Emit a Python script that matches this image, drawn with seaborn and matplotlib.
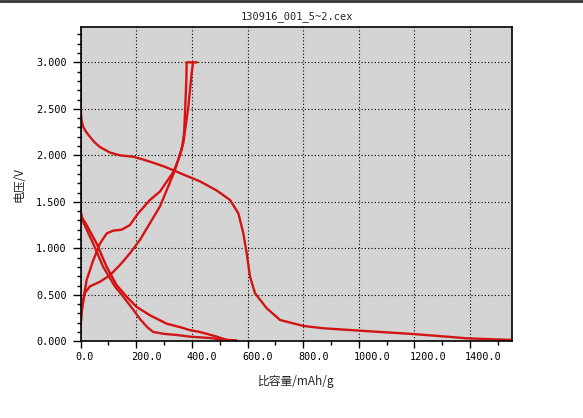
import numpy as np
import pandas as pd
import matplotlib
matplotlib.use("Agg")
import matplotlib.pyplot as plt
import matplotlib.transforms as mtransforms
from matplotlib.lines import Line2D
from matplotlib.ticker import MultipleLocator, FormatStrFormatter
import seaborn as sns

# ---- data (specific capacity mAh/g, voltage V) ----
dis1_cap = [0, 0, 1, 4, 10, 20, 33, 50, 69, 105, 141, 189, 230, 261, 300, 333, 380, 429, 490, 537,
            567, 585, 597, 609, 627, 669, 717, 801, 873, 1005, 1196, 1316, 1388, 1480, 1552]
dis1_v = [3.08, 2.6, 2.45, 2.36, 2.30, 2.25, 2.20, 2.14, 2.09, 2.03, 2.00, 1.985, 1.95, 1.92,
          1.88, 1.84, 1.78, 1.72, 1.62, 1.52, 1.376, 1.16, 0.946, 0.695, 0.516, 0.355, 0.229,
          0.165, 0.14, 0.114, 0.078, 0.05, 0.032, 0.022, 0.015]

dis2_cap = [0, 0, 5, 21.5, 57.5, 93.5, 129, 165, 201, 249, 309, 360, 393, 429, 460, 489, 525, 560]
dis2_v = [2.15, 1.40, 1.33, 1.25, 1.05, 0.80, 0.605, 0.48, 0.37, 0.28, 0.19, 0.15, 0.12, 0.10,
          0.075, 0.05, 0.015, 0.01]

dis3_cap = [0, 0, 5, 11, 45, 81, 123, 153, 189, 213, 240, 261, 300, 345, 393, 465, 525, 545]
dis3_v = [2.10, 1.36, 1.31, 1.27, 1.05, 0.80, 0.59, 0.48, 0.34, 0.24, 0.15, 0.10, 0.08, 0.068,
          0.05, 0.035, 0.014, 0.005]

chg1_cap = [0, 3, 9, 21.5, 45, 69, 93.5, 117, 147, 177, 205, 249, 285, 333, 351, 363, 372,
            376, 380, 381, 400]
chg1_v = [0.20, 0.30, 0.44, 0.66, 0.87, 1.05, 1.16, 1.19, 1.20, 1.25, 1.37, 1.52, 1.61, 1.82,
          1.95, 2.06, 2.24, 2.52, 2.81, 3.00, 3.00]

chg2_cap = [0, 1, 3.6, 15, 33, 69, 105, 141, 177, 213, 249, 285, 339, 369, 387, 399, 404, 418]
chg2_v = [0.15, 0.22, 0.34, 0.52, 0.59, 0.64, 0.71, 0.82, 0.946, 1.09, 1.27, 1.45, 1.84, 2.13,
          2.52, 2.88, 3.00, 3.00]

curves = [(dis1_cap, dis1_v), (dis2_cap, dis2_v), (dis3_cap, dis3_v),
          (chg1_cap, chg1_v), (chg2_cap, chg2_v)]
line_colors = ["#d01515", "#d61010", "#cc1818", "#dc1010", "#d41414"]

sns.set_style("ticks")
plt.rcParams['font.family'] = ['Noto Sans CJK SC', 'DejaVu Sans']

fig = plt.figure(figsize=(5.83, 4.18), dpi=100)
ax = fig.add_axes([0.1384, 0.1835, 0.7403, 0.7519])
ax.set_facecolor("#d4d4d4")

for (cap, v), c in zip(curves, line_colors):
    df = pd.DataFrame({"cap": cap, "v": v})
    sns.lineplot(data=df, x="cap", y="v", sort=False, estimator=None,
                 color=c, linewidth=1.7, ax=ax)

ax.set_xlim(0, 1552)
ax.set_ylim(0, 3.38)

ax.xaxis.set_major_locator(MultipleLocator(200))
ax.xaxis.set_minor_locator(MultipleLocator(100))
ax.yaxis.set_major_locator(MultipleLocator(0.5))
ax.yaxis.set_minor_locator(MultipleLocator(0.1))
ax.xaxis.set_major_formatter(FormatStrFormatter('%.1f'))
ax.yaxis.set_major_formatter(FormatStrFormatter('%.3f'))

ax.grid(True, which='major', color='black', linestyle=(0, (1, 2)), linewidth=0.8)
ax.tick_params(axis='both', which='both', direction='out', colors='black',
               top=False, right=False)
ax.tick_params(axis='x', which='major', length=5, width=1, pad=3)
ax.tick_params(axis='x', which='minor', length=3, width=1)
ax.tick_params(axis='y', which='major', length=6, width=1, pad=4)
ax.tick_params(axis='y', which='minor', length=3, width=1)

for sp in ax.spines.values():
    sp.set_visible(True)
    sp.set_color('black')
    sp.set_linewidth(1.2)

offset = mtransforms.ScaledTranslation(-5 / 100, 0, fig.dpi_scale_trans)
for lab in ax.get_xticklabels():
    lab.set_family('DejaVu Sans Mono')
    lab.set_fontsize(7.3)
    lab.set_horizontalalignment('left')
    lab.set_transform(lab.get_transform() + offset)
for lab in ax.get_yticklabels():
    lab.set_family('DejaVu Sans Mono')
    lab.set_fontsize(7.3)

ax.set_title("130916_001_5~2.cex", fontsize=7.5, family='DejaVu Sans Mono', pad=6)
ax.set_xlabel("比容量/mAh/g", fontsize=8.5, labelpad=9)
ax.set_ylabel("电压/V", fontsize=8.5, labelpad=8)

fig.add_artist(Line2D([0, 1], [1 - 1 / 418, 1 - 1 / 418], color='#333333', linewidth=2,
                      transform=fig.transFigure))

fig.savefig("out.png", dpi=100, facecolor="white")
